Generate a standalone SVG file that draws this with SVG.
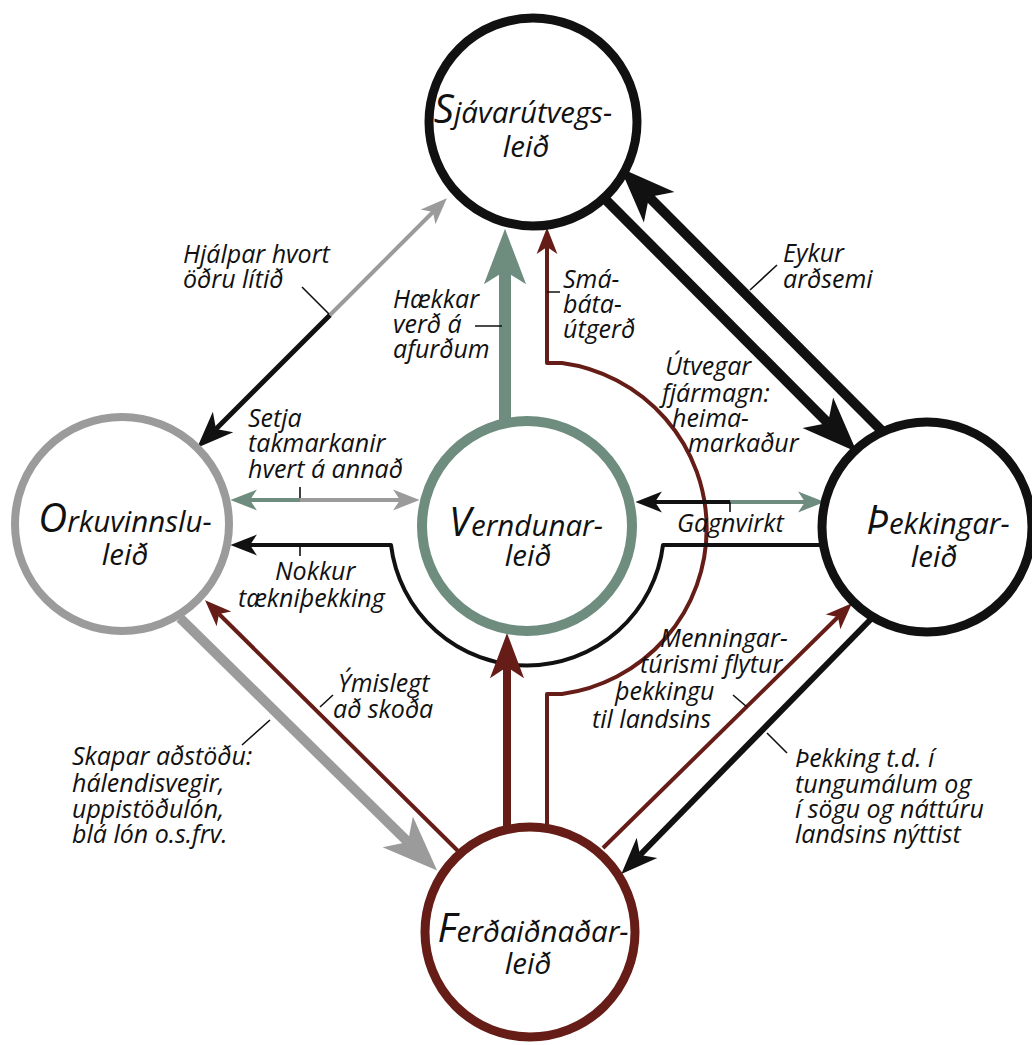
<svg xmlns="http://www.w3.org/2000/svg" width="1032" height="1045" viewBox="0 0 1032 1045">
<style>
.node{fill:#fff}
.nt{font-family:"Open Sans","Liberation Sans",sans-serif;font-style:italic;font-size:29.5px;fill:#111;text-anchor:middle}
.big{font-size:40px}
.lb{font-family:"Open Sans","Liberation Sans",sans-serif;font-style:italic;font-size:25px;fill:#111}
.ld{stroke:#111;stroke-width:1.6;fill:none}
.c{fill:none;stroke-linejoin:round}
.k{stroke:#111}
.g{stroke:#9b9b9b}
.v{stroke:#6f8d7f}
.r{stroke:#671d17}
</style>
<defs>
<marker id="bigK" markerUnits="userSpaceOnUse" orient="auto" markerWidth="60" markerHeight="60" viewBox="-14 -20 50 40" refX="0" refY="0" overflow="visible"><path d="M34,0 L-12,-18 L0,0 L-12,18 Z" fill="#111"/></marker>
<marker id="bigG" markerUnits="userSpaceOnUse" orient="auto" markerWidth="60" markerHeight="60" viewBox="-14 -20 50 40" refX="0" refY="0" overflow="visible"><path d="M34,0 L-12,-18 L0,0 L-12,18 Z" fill="#9b9b9b"/></marker>
<marker id="bigV" markerUnits="userSpaceOnUse" orient="auto" markerWidth="60" markerHeight="60" viewBox="-14 -21 54 42" refX="0" refY="0" overflow="visible"><path d="M38,0 L-12,-19 L0,0 L-12,19 Z" fill="#6f8d7f"/></marker>
<marker id="bigR" markerUnits="userSpaceOnUse" orient="auto" markerWidth="50" markerHeight="50" viewBox="-12 -17 44 34" refX="0" refY="0" overflow="visible"><path d="M30,0 L-10,-15 L0,0 L-10,15 Z" fill="#671d17"/></marker>
<marker id="medK" markerUnits="userSpaceOnUse" orient="auto" markerWidth="40" markerHeight="40" viewBox="-10 -14 36 28" refX="0" refY="0" overflow="visible"><path d="M24,0 L-9,-13 L0,0 L-9,13 Z" fill="#111"/></marker>
<marker id="smK" markerUnits="userSpaceOnUse" orient="auto" markerWidth="30" markerHeight="30" viewBox="-8 -10 26 20" refX="0" refY="0" overflow="visible"><path d="M17,0 L-6,-9 L0,0 L-6,9 Z" fill="#111"/></marker>
<marker id="smG" markerUnits="userSpaceOnUse" orient="auto" markerWidth="30" markerHeight="30" viewBox="-8 -10 26 20" refX="0" refY="0" overflow="visible"><path d="M17,0 L-6,-9 L0,0 L-6,9 Z" fill="#9b9b9b"/></marker>
<marker id="smV" markerUnits="userSpaceOnUse" orient="auto" markerWidth="30" markerHeight="30" viewBox="-8 -10 26 20" refX="0" refY="0" overflow="visible"><path d="M17,0 L-6,-9 L0,0 L-6,9 Z" fill="#6f8d7f"/></marker>
<marker id="smR" markerUnits="userSpaceOnUse" orient="auto" markerWidth="30" markerHeight="30" viewBox="-8 -10 26 20" refX="0" refY="0" overflow="visible"><path d="M17,0 L-6,-9 L0,0 L-6,9 Z" fill="#671d17"/></marker>
</defs>
<rect width="1032" height="1045" fill="#fff"/>

<g id="connectors">
  <!-- Hjálpar hvort öðru lítið -->
  <path class="c k" stroke-width="5" d="M330,315 L216,429" marker-end="url(#medK)"/>
  <path class="c g" stroke-width="4" d="M330,315 L433,212" marker-end="url(#smG)"/>
  <!-- Hækkar verð á afurðum -->
  <path class="c v" stroke-width="12" d="M505,424 V271" marker-end="url(#bigV)"/>
  <!-- Smábátaútgerð -->
  <path class="c r" stroke-width="4" d="M547,828 V694 H562 A167,167 0 0 0 562,363 H547 V247" marker-end="url(#smR)"/>
  <!-- Útvegar fjármagn -->
  <path class="c k" stroke-width="10" d="M603,197 L828,423" marker-end="url(#bigK)"/>
  <!-- Eykur arðsemi -->
  <path class="c k" stroke-width="10" d="M884,433 L649,197" marker-end="url(#bigK)"/>
  <!-- Setja takmarkanir -->
  <path class="c v" stroke-width="4" d="M300,500 H250" marker-end="url(#smV)"/>
  <path class="c g" stroke-width="4" d="M300,500 H400" marker-end="url(#smG)"/>
  <!-- Nokkur tækniþekking -->
  <path class="c k" stroke-width="4" d="M822,545 H663 A137,137 0 0 1 391,545 H250" marker-end="url(#smK)"/>
  <!-- Gagnvirkt -->
  <path class="c k" stroke-width="4" d="M730,502 H655" marker-end="url(#smK)"/>
  <path class="c v" stroke-width="4" d="M730,502 H805" marker-end="url(#smV)"/>
  <!-- Skapar aðstöðu -->
  <path class="c g" stroke-width="10" d="M180,618 L408,842" marker-end="url(#bigG)"/>
  <!-- Ýmislegt að skoða -->
  <path class="c r" stroke-width="4" d="M458,851 L219,614" marker-end="url(#smR)"/>
  <!-- Ferð -> Verndunar -->
  <path class="c r" stroke-width="8" d="M507,829 V667" marker-end="url(#bigR)"/>
  <!-- Þekking t.d. -->
  <path class="c k" stroke-width="6" d="M873,617 L640,855" marker-end="url(#medK)"/>
  <!-- Menningartúrismi -->
  <path class="c r" stroke-width="4" d="M603,848 L838,617" marker-end="url(#smR)"/>
  <!-- leader lines -->
  <path class="ld" d="M302,287 L329,314 M475,326 H502 M547,292 H560 M750,290 L777,265 M300,487 V498 M300,547 V556 M730,502 V512 M320,707 L333,695 M242,745 L270,720 M733,695 L747,707 M767,733 L787,753"/>
</g>

<g id="node-sjavarutvegs">
  <circle class="node" cx="533" cy="122" r="104" stroke="#111" stroke-width="9"/>
  <text class="nt"><tspan x="523" y="123"><tspan class="big">S</tspan>jávarútvegs-</tspan><tspan x="526" y="157">leið</tspan></text>
</g>
<g id="node-orkuvinnslu">
  <circle class="node" cx="122" cy="524" r="107" stroke="#9b9b9b" stroke-width="8"/>
  <text class="nt"><tspan x="125" y="532"><tspan class="big">O</tspan>rkuvinnslu-</tspan><tspan x="125" y="565">leið</tspan></text>
</g>
<g id="node-verndunar">
  <circle class="node" cx="527" cy="526" r="105" stroke="#6f8d7f" stroke-width="10"/>
  <text class="nt"><tspan x="526" y="536"><tspan class="big">V</tspan>erndunar-</tspan><tspan x="528" y="566">leið</tspan></text>
</g>
<g id="node-thekkingar">
  <circle class="node" cx="927" cy="527" r="105" stroke="#111" stroke-width="9"/>
  <text class="nt"><tspan x="938" y="534"><tspan class="big">Þ</tspan>ekkingar-</tspan><tspan x="934" y="567">leið</tspan></text>
</g>
<g id="node-ferdaidnadar">
  <circle class="node" cx="530" cy="932" r="105" stroke="#671d17" stroke-width="9"/>
  <text class="nt"><tspan x="533" y="942"><tspan class="big">F</tspan>erðaiðnaðar-</tspan><tspan x="528" y="974">leið</tspan></text>
</g>

<g id="labels">
  <text class="lb"><tspan x="183" y="263">Hjálpar hvort</tspan><tspan x="183" y="288">öðru lítið</tspan></text>
  <text class="lb"><tspan x="393" y="308">Hækkar</tspan><tspan x="393" y="333">verð á</tspan><tspan x="393" y="358">afurðum</tspan></text>
  <text class="lb"><tspan x="563" y="288">Smá-</tspan><tspan x="563" y="313">báta-</tspan><tspan x="563" y="338">útgerð</tspan></text>
  <text class="lb"><tspan x="783" y="262">Eykur</tspan><tspan x="783" y="288">arðsemi</tspan></text>
  <text class="lb"><tspan x="665" y="375">Útvegar</tspan><tspan x="662" y="402">fjármagn:</tspan><tspan x="672" y="427">heima-</tspan><tspan x="688" y="452">markaður</tspan></text>
  <text class="lb"><tspan x="248" y="427">Setja</tspan><tspan x="248" y="452">takmarkanir</tspan><tspan x="248" y="478">hvert á annað</tspan></text>
  <text class="lb" x="677" y="532">Gagnvirkt</text>
  <text class="lb"><tspan x="275" y="580">Nokkur</tspan><tspan x="238" y="607">tækniþekking</tspan></text>
  <text class="lb"><tspan x="660" y="647">Menningar-</tspan><tspan x="640" y="673">túrismi flytur</tspan><tspan x="615" y="700">þekkingu</tspan><tspan x="592" y="728">til landsins</tspan></text>
  <text class="lb"><tspan x="338" y="692">Ýmislegt</tspan><tspan x="333" y="718">að skoða</tspan></text>
  <text class="lb"><tspan x="72" y="765">Skapar aðstöðu:</tspan><tspan x="72" y="792">hálendisvegir,</tspan><tspan x="72" y="818">uppistöðulón,</tspan><tspan x="72" y="843">blá lón o.s.frv.</tspan></text>
  <text class="lb"><tspan x="795" y="767">Þekking t.d. í</tspan><tspan x="795" y="793">tungumálum og</tspan><tspan x="795" y="818">í sögu og náttúru</tspan><tspan x="795" y="843">landsins nýttist</tspan></text>
</g>
</svg>
